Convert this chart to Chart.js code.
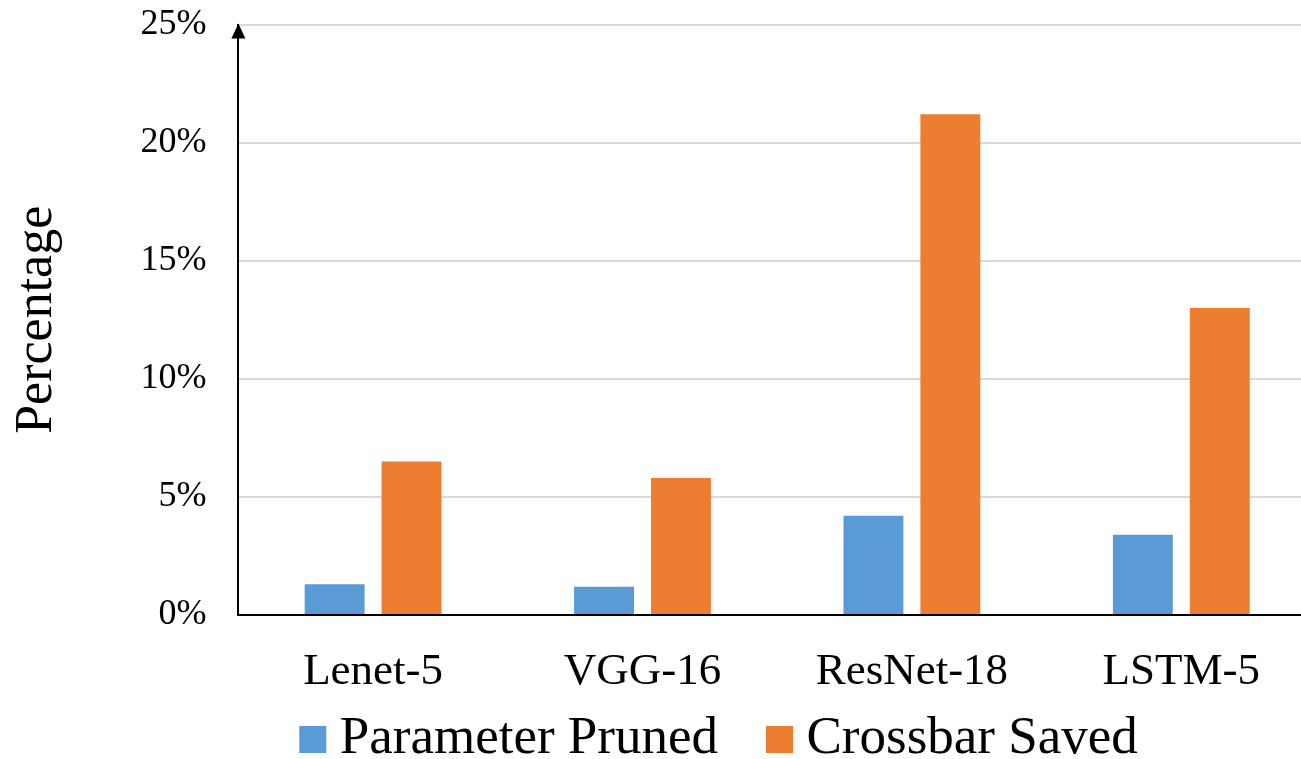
<!DOCTYPE html>
<html lang="en">
<head>
    <meta charset="UTF-8">
    <title>Parameter Pruned vs Crossbar Saved</title>
    <script src="https://cdn.jsdelivr.net/npm/chart.js"></script>
    <style>
        body {
            margin: 0;
            padding: 0;
            background: #fff;
            overflow: hidden;
        }
        #wrap {
            position: relative;
            width: 1438px;
            height: 759px;
        }
    </style>
</head>
<body>
    <div id="wrap">
        <canvas id="grafica"></canvas>
    </div>
    <script>
        const categorias = ['Lenet-5', 'VGG-16', 'ResNet-18', 'LSTM-5'];
        const parameterPruned = [1.3, 1.2, 4.2, 3.4];
        const crossbarSaved = [6.5, 5.8, 21.2, 13.0];
        const yTicks = [0, 5, 10, 15, 20, 25];

        // flecha en la parte superior del eje Y
        const flechaEje = {
            id: 'flechaEje',
            afterDraw(chart) {
                const ctx = chart.ctx;
                const x = chart.chartArea.left;
                const top = chart.chartArea.top;
                ctx.save();
                ctx.fillStyle = '#000';
                ctx.beginPath();
                ctx.moveTo(x, top - 1);
                ctx.lineTo(x - 7, top + 14);
                ctx.lineTo(x + 7, top + 14);
                ctx.closePath();
                ctx.fill();
                ctx.restore();
            }
        };

        // mover la leyenda a su sitio (centrada bajo la parte visible)
        const moverLeyenda = {
            id: 'moverLeyenda',
            afterLayout(chart) {
                const lg = chart.legend;
                const dx = 67;
                lg.left += dx;
                lg.right += dx;
                lg.top = 652;
                lg.bottom = 759;
                lg.height = lg.bottom - lg.top;
            }
        };

        const ctx = document.getElementById('grafica').getContext('2d');
        new Chart(ctx, {
            type: 'bar',
            data: {
                labels: categorias,
                datasets: [{
                    label: 'Parameter Pruned',
                    data: parameterPruned,
                    backgroundColor: '#5B9BD5',
                    categoryPercentage: 0.571,
                    barPercentage: 0.779
                }, {
                    label: 'Crossbar Saved',
                    data: crossbarSaved,
                    backgroundColor: '#ED7D31',
                    categoryPercentage: 0.571,
                    barPercentage: 0.779
                }]
            },
            options: {
                responsive: true,
                maintainAspectRatio: false,
                animation: false,
                layout: {
                    padding: { top: 0, right: 122, left: 0, bottom: 0 }
                },
                plugins: {
                    tooltip: { enabled: false },
                    legend: {
                        position: 'bottom',
                        maxHeight: 30,
                        labels: {
                            color: '#000',
                            font: { family: 'Liberation Serif', size: 53, lineHeight: 1 },
                            boxWidth: 1,
                            boxHeight: 1,
                            padding: 61,
                            generateLabels(chart) {
                                const items = Chart.defaults.plugins.legend.labels.generateLabels(chart);
                                items.forEach(it => {
                                    it.lineWidth = 26;
                                    it.strokeStyle = it.fillStyle;
                                    it.lineJoin = 'miter';
                                });
                                return items;
                            }
                        }
                    }
                },
                scales: {
                    x: {
                        grid: { display: false, drawTicks: false },
                        border: { color: '#000', width: 2 },
                        ticks: {
                            color: '#000',
                            font: { family: 'Liberation Serif', size: 45 },
                            padding: 30
                        }
                    },
                    y: {
                        min: 0,
                        max: 25,
                        afterBuildTicks(scale) {
                            scale.ticks = yTicks.map(v => ({ value: v }));
                        },
                        grid: {
                            color: '#d9d9d9',
                            lineWidth: 2,
                            tickLength: 29,
                            tickColor: 'rgba(0,0,0,0)'
                        },
                        border: { color: '#000', width: 2 },
                        ticks: {
                            color: '#000',
                            font: { family: 'Liberation Serif', size: 36 },
                            padding: 3,
                            callback: v => v + '%'
                        },
                        title: {
                            display: true,
                            text: 'Percentage',
                            color: '#000',
                            font: { family: 'Liberation Serif', size: 52 },
                            padding: { top: 6, bottom: 69 }
                        }
                    }
                }
            },
            plugins: [flechaEje, moverLeyenda]
        });
    </script>
</body>
</html>
